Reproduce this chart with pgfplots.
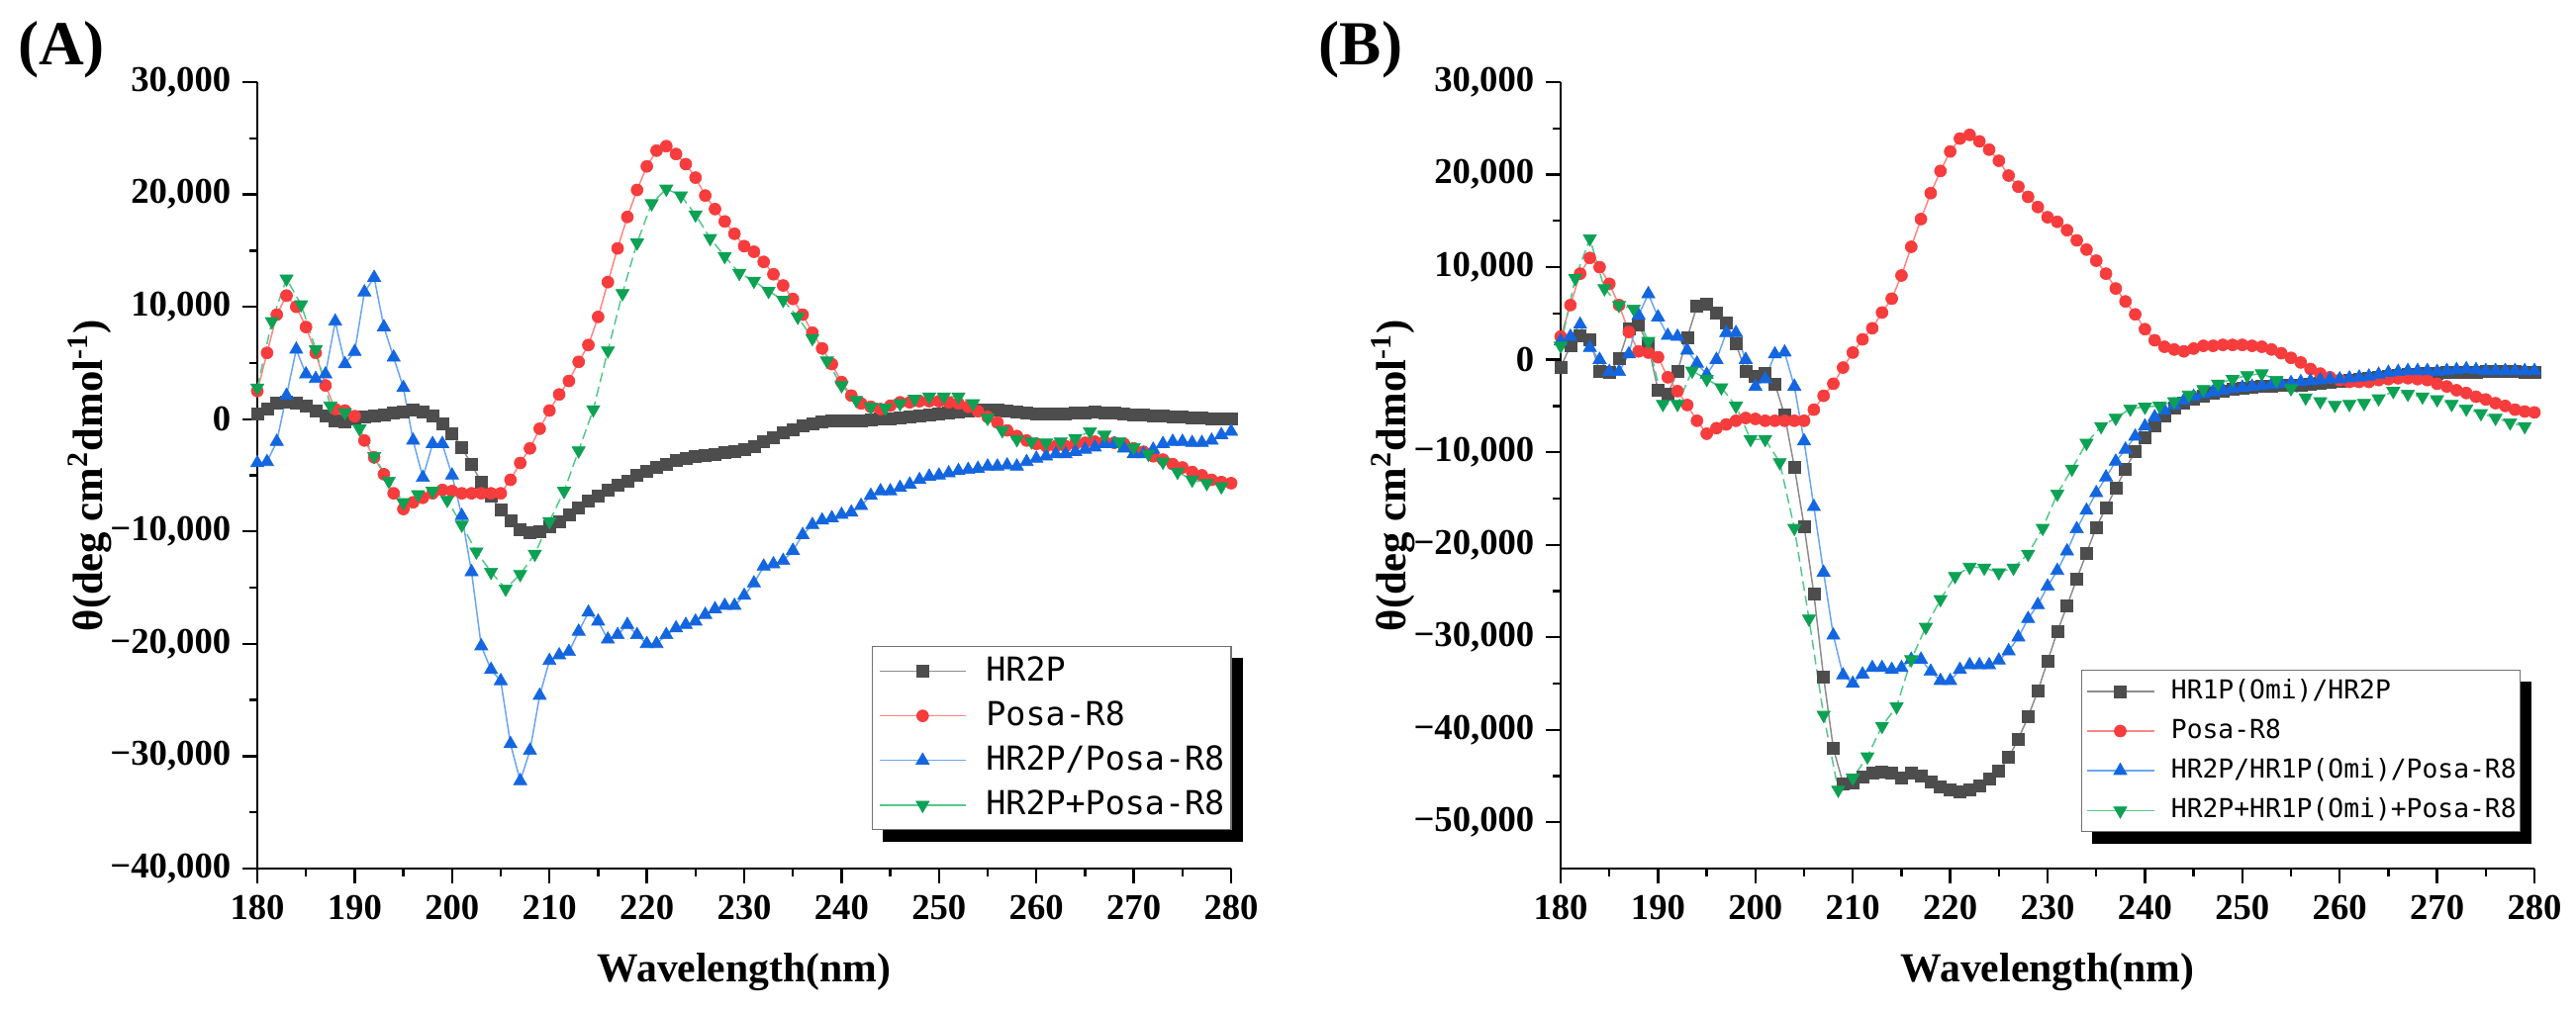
\documentclass[border=0pt]{standalone}
\usepackage{fontspec}
\setmainfont{Liberation Serif}
\newfontfamily\monofont{DejaVu Sans Mono}
\usepackage{pgfplots}
\pgfplotsset{compat=1.18}
\usepackage{pgfplotstable}

\definecolor{cGrayM}{HTML}{4D4D4D}
\definecolor{cGrayL}{HTML}{8C8C8C}
\definecolor{cRedM}{HTML}{F63C3C}
\definecolor{cRedL}{HTML}{FF8585}
\definecolor{cBlueM}{HTML}{1466E0}
\definecolor{cBlueL}{HTML}{6AA6F2}
\definecolor{cGreenM}{HTML}{0DA154}
\definecolor{cGreenL}{HTML}{52C98C}

% invisible struts giving every legend row the same height
\newcommand\lsA{\rule[-2pt]{0pt}{9.4pt}}
\newcommand\lsB{\rule[-1.6pt]{0pt}{7.4pt}}

% ---------- CD spectra, mean residue ellipticity vs wavelength ----------
\pgfplotstableread{
wl theta
180 500
181 900
182 1400
183 1500
184 1400
185 1150
186 770
187 270
188 -110
189 -200
190 30
191 240
192 330
193 390
194 530
195 680
196 830
197 620
198 270
199 -400
200 -1290
201 -2550
202 -4020
203 -5600
204 -6860
205 -8100
206 -9070
207 -9800
208 -10090
209 -10000
210 -9590
211 -9120
212 -8540
213 -7890
214 -7300
215 -6800
216 -6300
217 -5900
218 -5500
219 -5000
220 -4600
221 -4300
222 -4000
223 -3700
224 -3500
225 -3300
226 -3200
227 -3100
228 -3000
229 -2900
230 -2700
231 -2400
232 -2000
233 -1600
234 -1200
235 -900
236 -600
237 -400
238 -250
239 -150
240 -100
241 -100
242 -100
243 -50
244 0
245 50
246 100
247 200
248 300
249 400
250 450
251 550
252 650
253 750
254 800
255 850
256 800
257 750
258 650
259 550
260 500
261 450
262 450
263 500
264 550
265 600
266 650
267 600
268 550
269 450
270 400
271 350
272 300
273 300
274 250
275 200
276 150
277 100
278 50
279 0
280 0
}\tblHRtwo

\pgfplotstableread{
wl theta
180 2500
181 5900
182 9300
183 11000
184 10000
185 8200
186 5900
187 3000
188 900
189 770
190 270
191 -1900
192 -3400
193 -4900
194 -6600
195 -8000
196 -7400
197 -7000
198 -6600
199 -6300
200 -6400
201 -6600
202 -6600
203 -6600
204 -6600
205 -6600
206 -5400
207 -3900
208 -2600
209 -850
210 770
211 2200
212 3400
213 5100
214 6600
215 9100
216 12200
217 15200
218 18000
219 20400
220 22500
221 23900
222 24300
223 23600
224 22700
225 21500
226 19900
227 18700
228 17600
229 16500
230 15400
231 14900
232 14000
233 12900
234 11900
235 10700
236 9300
237 7700
238 6300
239 4900
240 3300
241 2100
242 1400
243 1100
244 900
245 1200
246 1500
247 1500
248 1600
249 1600
250 1600
251 1500
252 1400
253 1100
254 700
255 200
256 -300
257 -1000
258 -1500
259 -1900
260 -2200
261 -2400
262 -2400
263 -2400
264 -2200
265 -2100
266 -2000
267 -2000
268 -2100
269 -2200
270 -2600
271 -2900
272 -3300
273 -3600
274 -4000
275 -4300
276 -4700
277 -5000
278 -5400
279 -5600
280 -5700
}\tblPosa

\pgfplotstableread{
wl theta
180 -3900
181 -3800
182 -2000
183 2100
184 6200
185 4000
186 3600
187 4000
188 8700
189 4900
190 6000
191 11300
192 12600
193 8200
194 5500
195 2800
196 -1900
197 -5200
198 -2200
199 -2200
200 -5000
201 -8600
202 -13600
203 -20200
204 -22300
205 -23300
206 -28900
207 -32200
208 -29500
209 -24600
210 -21500
211 -21000
212 -20700
213 -18900
214 -17200
215 -18000
216 -19600
217 -19200
218 -18300
219 -19200
220 -20000
221 -20000
222 -19200
223 -18600
224 -18300
225 -18000
226 -17400
227 -16900
228 -16600
229 -16600
230 -15700
231 -14600
232 -13100
233 -12900
234 -12600
235 -11700
236 -10300
237 -9400
238 -9000
239 -8800
240 -8500
241 -8300
242 -7700
243 -6800
244 -6400
245 -6400
246 -6100
247 -5800
248 -5400
249 -5100
250 -5000
251 -4800
252 -4600
253 -4500
254 -4400
255 -4200
256 -4200
257 -4100
258 -4200
259 -3800
260 -3500
261 -3300
262 -3100
263 -3100
264 -2900
265 -2700
266 -2500
267 -2200
268 -2200
269 -2600
270 -3100
271 -3100
272 -2700
273 -2200
274 -2000
275 -2000
276 -2100
277 -2100
278 -1900
279 -1400
280 -1100
}\tblComplexA

\pgfplotstableread{
wl theta
180 2800
181.5 8700
183 12500
184.5 10200
186 6200
187.5 1200
189 600
190.5 -850
192 -3300
193.5 -5500
195 -7400
196.5 -6700
198 -6400
199.5 -7200
201 -9400
202.5 -11800
204 -13600
205.5 -15100
207 -13800
208.5 -12000
210 -9100
211.5 -6400
213 -2800
214.5 860
216 6100
217.5 11200
219 15700
220.5 19200
222 20500
223.5 19900
225 18200
226.5 16100
228 14500
229.5 13000
231 12300
232.5 11400
234 10600
235.5 9100
237 7200
238.5 5200
240 3000
241.5 1700
243 1100
244.5 1000
246 1400
247.5 1800
249 2000
250.5 2000
252 2000
253.5 1400
255 100
256.5 -1000
258 -1800
259.5 -2000
261 -2100
262.5 -2000
264 -1700
265.5 -1100
267 -1400
268.5 -2000
270 -2500
271.5 -3100
273 -3800
274.5 -4700
276 -5400
277.5 -5700
279 -6000
}\tblMixA

\pgfplotstableread{
wl theta
180 -800
181 1500
182 2600
183 2200
184 -1300
185 -1400
186 100
187 3300
188 3800
189 1500
190 -3300
191 -3700
192 -1300
193 2400
194 5800
195 6000
196 5100
197 4000
198 1700
199 -1300
200 -1800
201 -1500
202 -2600
203 -6000
204 -11600
205 -18000
206 -25300
207 -34300
208 -42000
209 -45800
210 -45700
211 -45100
212 -44700
213 -44600
214 -44700
215 -45200
216 -44700
217 -45000
218 -45600
219 -46200
220 -46500
221 -46700
222 -46500
223 -46000
224 -45300
225 -44500
226 -43000
227 -41000
228 -38600
229 -35800
230 -32600
231 -29400
232 -26600
233 -23700
234 -20900
235 -18100
236 -16000
237 -13900
238 -11800
239 -9900
240 -8400
241 -7100
242 -6100
243 -5200
244 -4700
245 -4200
246 -3900
247 -3600
248 -3400
249 -3200
250 -3100
251 -3000
252 -2900
253 -2900
254 -2800
255 -2800
256 -2700
257 -2600
258 -2500
259 -2400
260 -2300
261 -2200
262 -2100
263 -2000
264 -1900
265 -1800
266 -1700
267 -1600
268 -1600
269 -1500
270 -1500
271 -1400
272 -1400
273 -1400
274 -1400
275 -1300
276 -1300
277 -1300
278 -1300
279 -1400
280 -1400
}\tblOmiHR

\pgfplotstableread{
wl theta
180 2000
181 2500
182 3800
183 1300
184 0
185 -1300
186 -1300
187 600
188 4800
189 7100
190 4600
191 2600
192 2500
193 1000
194 -400
195 -1600
196 0
197 2900
198 2900
199 0
200 -2900
201 -2100
202 600
203 800
204 -2900
205 -8800
206 -15900
207 -23000
208 -29800
209 -34100
210 -35000
211 -34000
212 -33300
213 -33300
214 -33500
215 -33300
216 -32400
217 -32400
218 -33700
219 -34700
220 -34700
221 -33500
222 -33000
223 -33000
224 -33000
225 -32500
226 -31500
227 -30000
228 -28000
229 -26500
230 -24500
231 -22800
232 -20700
233 -18300
234 -16300
235 -14400
236 -12700
237 -11000
238 -9700
239 -8300
240 -7200
241 -6200
242 -5500
243 -4900
244 -4400
245 -4000
246 -3700
247 -3500
248 -3300
249 -3100
250 -3000
251 -2900
252 -2800
253 -2700
254 -2600
255 -2500
256 -2400
257 -2300
258 -2200
259 -2100
260 -2100
261 -2000
262 -1900
263 -1800
264 -1600
265 -1400
266 -1300
267 -1200
268 -1200
269 -1200
270 -1300
271 -1200
272 -1100
273 -1000
274 -1100
275 -1200
276 -1200
277 -1200
278 -1200
279 -1200
280 -1200
}\tblComplexB

\pgfplotstableread{
wl theta
180 1500
181.5 8800
183 13100
184.5 7700
186 5900
187.5 5500
189 2000
190.5 -4800
192 -4800
193.5 -1200
195 -2100
196.5 -3000
198 -5000
199.5 -8600
201 -8600
202.5 -11100
204 -18200
205.5 -28000
207 -38400
208.5 -46500
210 -45200
211.5 -42900
213 -39600
214.5 -37500
216 -32400
217.5 -28900
219 -25900
220.5 -23400
222 -22400
223.5 -22500
225 -23000
226.5 -22500
228 -21000
229.5 -18200
231 -14500
232.5 -11800
234 -9000
235.5 -7200
237 -6300
238.5 -5300
240 -5100
241.5 -5000
243 -4500
244.5 -3800
246 -3200
247.5 -2600
249 -2100
250.5 -1700
252 -1500
253.5 -2200
255 -3100
256.5 -4100
258 -4500
259.5 -4900
261 -4800
262.5 -4700
264 -4200
265.5 -3400
267 -3700
268.5 -4000
270 -4300
271.5 -4800
273 -5300
274.5 -5800
276 -6300
277.5 -6800
279 -7200
}\tblMixB

\pgfplotsset{
  cdaxis/.style={
    scale only axis, width=295.2pt, height=238.5pt,
    xmin=180, xmax=280,
    axis lines=left, axis line style={-, line width=0.7pt},
    tick align=outside, tick pos=left,
    major tick length=4.5pt, minor tick length=2.4pt,
    tick style={line width=0.7pt, black},
    xtick={180,190,...,280}, minor x tick num=1, minor y tick num=1,
    scaled y ticks=false,
    tick label style={font=\bfseries\fontsize{11}{13}\selectfont},
    /pgf/number format/assume math mode=true,
    xlabel={Wavelength(nm)},
    xlabel style={font=\bfseries\fontsize{12.5}{15}\selectfont,
      at={(axis description cs:0.5,-0.132)}, anchor=center},
    ylabel={θ(deg cm\textsuperscript{2}dmol\textsuperscript{-1})},
    ylabel style={font=\bfseries\fontsize{12.8}{15}\selectfont,
      at={(axis description cs:-0.172,0.5)}, anchor=center},
    legend cell align=left,
  },
  sGray/.style={color=cGrayL, line width=0.45pt, mark=square*, mark size=1.8pt,
    mark options={solid, fill=cGrayM, draw=cGrayM, line width=0.2pt}},
  sRed/.style={color=cRedL, line width=0.45pt, mark=*, mark size=1.8pt,
    mark options={solid, fill=cRedM, draw=cRedM, line width=0.2pt}},
  sBlue/.style={color=cBlueL, line width=0.45pt, mark=triangle*, mark size=2.3pt,
    mark options={solid, fill=cBlueM, draw=cBlueM, line width=0.2pt}},
  sGreen/.style={color=cGreenL, line width=0.45pt, dash pattern=on 3pt off 1.5pt,
    mark=triangle*, mark size=2.3pt,
    mark options={solid, rotate=180, fill=cGreenM, draw=cGreenM, line width=0.2pt},
    legend image post style={solid}},
}

\begin{document}
\begin{tikzpicture}
\path[use as bounding box] (0,0) rectangle (780.9pt,306.3pt);

% ---------------- panel A ----------------
\begin{axis}[cdaxis, at={(78pt,42.9pt)}, anchor=south west,
  ymin=-40000, ymax=30000,
  ytick={-40000,-30000,-20000,-10000,0,10000,20000,30000},
  yticklabels={{−40,000},{−30,000},{−20,000},{−10,000},{0},{10,000},{20,000},{30,000}},
  legend style={name=legA, at={(rel axis cs:0.631,0.283)}, anchor=north west,
    font=\monofont\fontsize{10}{12}\selectfont,
    draw=black!55, line width=0.4pt, fill=white,
    inner xsep=2pt, inner ysep=3pt, row sep=4.6pt, column sep=6pt,
    nodes={inner sep=0pt}},
  legend image code/.code={\draw[mark repeat=2,mark phase=2]
    plot coordinates {(0pt,0pt) (13pt,0pt) (26pt,0pt)};},
]
\addplot[sGray]  table[x=wl, y=theta] {\tblHRtwo};
\addplot[sRed]   table[x=wl, y=theta] {\tblPosa};
\addplot[sBlue]  table[x=wl, y=theta] {\tblComplexA};
\addplot[sGreen] table[x=wl, y=theta] {\tblMixA};
\legend{\lsA HR2P, \lsA Posa-R8, \lsA HR2P/Posa-R8, \lsA HR2P+Posa-R8}
\end{axis}

% ---------------- panel B ----------------
\begin{axis}[cdaxis, at={(473.1pt,42.9pt)}, anchor=south west,
  ymin=-55000, ymax=30000,
  ytick={-50000,-40000,-30000,-20000,-10000,0,10000,20000,30000},
  yticklabels={{−50,000},{−40,000},{−30,000},{−20,000},{−10,000},{0},{10,000},{20,000},{30,000}},
  legend style={name=legB, at={(rel axis cs:0.5346,0.2528)}, anchor=north west,
    font=\monofont\fontsize{7.9}{9.5}\selectfont,
    draw=black!55, line width=0.4pt, fill=white,
    inner xsep=1.2pt, inner ysep=2.6pt, row sep=4.6pt, column sep=5pt,
    nodes={inner sep=0pt}},
  legend image code/.code={\draw[mark repeat=2,mark phase=2]
    plot coordinates {(0pt,0pt) (10.2pt,0pt) (20.4pt,0pt)};},
]
\addplot[sGray]  table[x=wl, y=theta] {\tblOmiHR};
\addplot[sRed]   table[x=wl, y=theta] {\tblPosa};
\addplot[sBlue]  table[x=wl, y=theta] {\tblComplexB};
\addplot[sGreen] table[x=wl, y=theta] {\tblMixB};
\legend{\lsB HR1P(Omi)/HR2P, \lsB Posa-R8, \lsB HR2P/HR1P(Omi)/Posa-R8, \lsB HR2P+HR1P(Omi)+Posa-R8}
\end{axis}

% solid black drop shadows behind the two legend boxes
\foreach \L in {legA,legB}{
  \fill[black] ([yshift=-3.6pt]\L.north east) rectangle ([xshift=3.3pt,yshift=-3.6pt]\L.south east);
  \fill[black] ([xshift=3.3pt]\L.south west) rectangle ([xshift=3.3pt,yshift=-3.6pt]\L.south east);
}

\node[font=\bfseries\fontsize{19}{21}\selectfont] at (18.6pt,291.3pt) {(A)};
\node[font=\bfseries\fontsize{19}{21}\selectfont] at (412.5pt,291.3pt) {(B)};
\end{tikzpicture}
\end{document}
